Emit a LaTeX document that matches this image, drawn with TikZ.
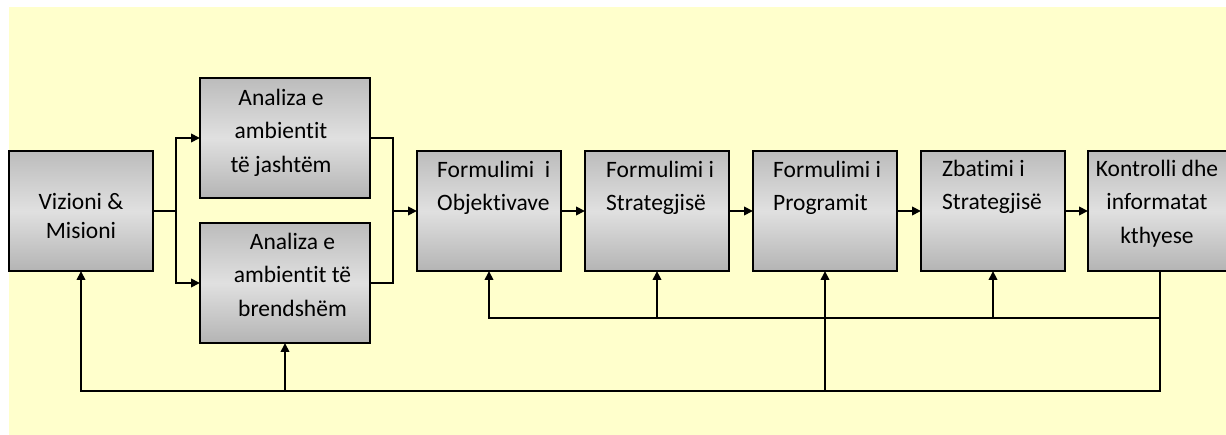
\documentclass[tikz,border=0pt]{standalone}
\usepackage{fontspec}
\setmainfont{Carlito}[Ligatures=NoCommon]
\usetikzlibrary{arrows.meta}

\definecolor{paper}{HTML}{FFFFCC}
\definecolor{boxtop}{HTML}{BCBCBC}
\definecolor{boxmid}{HTML}{E0E0E0}
\definecolor{boxbot}{HTML}{B4B4B4}

\begin{document}
\begin{tikzpicture}[x=1pt,y=-1pt,
  stage/.style={draw=black, line width=1.8pt, top color=boxtop, bottom color=boxbot,
    middle color=boxmid, inner sep=0pt, outer sep=0pt,
    minimum width=144pt, minimum height=120pt},
  wide/.style={minimum width=170pt},
  lbl/.style={inner sep=0pt, font=\fontsize{23.5}{33.5}\selectfont, execute at begin node=\strut},
  tight/.style={font=\fontsize{23.5}{29}\selectfont},
  wire/.style={line width=2pt, draw=black},
  flow/.style={wire, -{Triangle[length=9pt,width=8.5pt]}}]

% canvas
\useasboundingbox (0,0) rectangle (1226,435);
\fill[paper] (9,7) rectangle (1226,435);

% stage boxes
\node[stage] (vision) at (81,211) {};
\node[stage, wide] (ext) at (285,138) {};
\node[stage, wide] (int) at (285,283) {};
\node[stage] (obj) at (489,211) {};
\node[stage] (str) at (657,211) {};
\node[stage] (prg) at (825,211) {};
\node[stage] (imp) at (993,211) {};
\node[stage] (ctl) at (1160,211) {};

% box texts
\node[lbl, tight, align=center, anchor=north] (tvision) at (81,192.7) {Vizioni \&\\Misioni};
\node[lbl, align=center, anchor=north] (text) at (281,88.5) {Analiza e\\ambientit\\të jashtëm};
\node[lbl, align=center, anchor=north] (tint) at (292.5,232.5) {Analiza e\\ambientit të\\brendshëm};
\node[lbl, align=left, anchor=north west] (tobj) at (437,160.5) {Formulimi\ \ i\\Objektivave};
\node[lbl, align=left, anchor=north west] (tstr) at (606,160.5) {Formulimi i\\Strategjisë};
\node[lbl, align=left, anchor=north west] (tprg) at (773,160.5) {Formulimi i\\Programit};
\node[lbl, align=left, anchor=north west] (timp) at (942,159.5) {Zbatimi i\\Strategjisë};
\node[lbl, align=center, anchor=north] (tctl) at (1157,159.5) {Kontrolli dhe\\informatat\\kthyese};

% forward flow
\coordinate (split) at (176,211);
\coordinate (merge) at (393,211);
\draw[wire] (vision.east) -- (split);
\draw[flow] (split) |- (ext.west);
\draw[flow] (split) |- (int.west);
\draw[wire] (ext.east) -| (merge);
\draw[wire] (int.east) -| (merge);
\draw[flow] (merge) -- (obj.west);
\draw[flow] (obj.east) -- (str.west);
\draw[flow] (str.east) -- (prg.west);
\draw[flow] (prg.east) -- (imp.west);
\draw[flow] (imp.east) -- (ctl.west);

% feedback loops
\coordinate (low) at (1160,391);
\coordinate (high) at (1160,318);
\draw[flow] (ctl.south) -- (low) -- (vision.south |- low) -- (vision.south);
\draw[flow] (int.south |- low) -- (int.south);
\draw[flow] (prg.south |- low) -- (prg.south);
\draw[flow] (high) -- (obj.south |- high) -- (obj.south);
\draw[flow] (str.south |- high) -- (str.south);
\draw[flow] (imp.south |- high) -- (imp.south);
\end{tikzpicture}
\end{document}
